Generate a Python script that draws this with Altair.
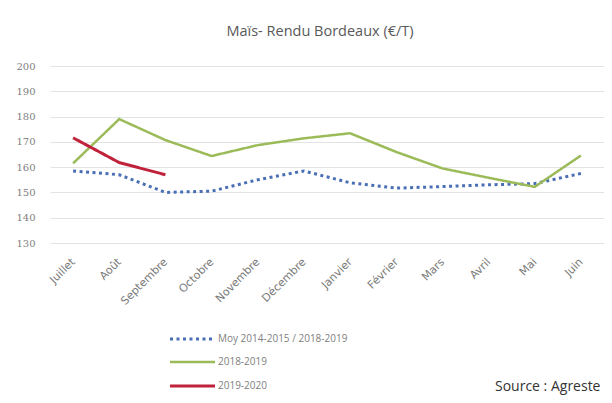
import altair as alt
import pandas as pd

mois = ["Juillet", "Août", "Septembre", "Octobre", "Novembre", "Décembre",
        "Janvier", "Février", "Mars", "Avril", "Mai", "Juin"]
moy = [158.5, 157, 150, 150.5, 155, 158.5, 153.8, 151.7, 152.3, 153, 153.5, 157.5]
s1819 = [161.5, 179, 170.7, 164.4, 168.7, 171.4, 173.4, 166, 159.5, 155.8, 152.2, 164.6]
s1920 = [171.6, 161.8, 157]

series_names = ["Moy 2014-2015 / 2018-2019", "2018-2019", "2019-2020"]
colors = ["#4A6FB5", "#9BBB59", "#C0223B"]
dashes = [[3, 3.5], [1, 0], [1, 0]]
widths = [3, 2.5, 3]

rows = []
for m, v in zip(mois, moy):
    rows.append({"mois": m, "val": v, "serie": series_names[0]})
for m, v in zip(mois, s1819):
    rows.append({"mois": m, "val": v, "serie": series_names[1]})
for m, v in zip(mois, s1920):
    rows.append({"mois": m, "val": v, "serie": series_names[2]})
df = pd.DataFrame(rows)

xenc = alt.X("mois:N", sort=mois, title=None,
             scale=alt.Scale(domain=mois, paddingInner=0, paddingOuter=0),
             axis=alt.Axis(labelAngle=-45, labelColor="#7A7A7A", labelFontSize=11,
                           labelFont="DejaVu Sans", domain=False, ticks=False, grid=False,
                           labelAlign="right", labelBaseline="middle",
                           labelPadding=17))
yenc = alt.Y("val:Q", title=None,
             scale=alt.Scale(domain=[130, 200], nice=False, zero=False),
             axis=alt.Axis(values=list(range(130, 201, 10)), labelColor="#808080",
                           labelFontSize=10, labelFont="DejaVu Serif", domain=False,
                           ticks=False, labelPadding=15, gridColor="#E3E3E3",
                           gridWidth=1))

layers = []
for name, c, d, w in zip(series_names, colors, dashes, widths):
    layers.append(
        alt.Chart(df[df.serie == name]).mark_line(color=c, strokeDash=d, strokeWidth=w)
        .encode(x=xenc, y=yenc)
    )

# manual legend
leg_y = [273, 296, 320]
for name, c, d, w, yy in zip(series_names, colors, dashes, widths, leg_y):
    ld = pd.DataFrame({"label": [name]})
    layers.append(
        alt.Chart(ld).mark_rule(color=c, strokeDash=d, strokeWidth=w)
        .encode(x=alt.value(120), x2=alt.value(165), y=alt.value(yy))
    )
    layers.append(
        alt.Chart(ld).mark_text(align="left", baseline="middle", fontSize=10,
                                color="#808080", font="Open Sans")
        .encode(x=alt.value(168), y=alt.value(yy), text="label:N")
    )

src = pd.DataFrame({"t": ["Source : Agreste"]})
layers.append(
    alt.Chart(src).mark_text(align="left", baseline="middle", fontSize=14,
                             color="#333333", font="Open Sans")
    .encode(x=alt.value(445), y=alt.value(321), text="t:N")
)

chart = alt.layer(*layers).properties(
    width=554, height=177,
    title=alt.TitleParams("Maïs- Rendu Bordeaux (€/T)", fontSize=14.5, color="#595959",
                          font="Open Sans", fontWeight="normal", offset=22, dx=-7,
                          anchor="middle"),
    autosize=alt.AutoSizeParams(type="none"),
    padding={"left": 42, "top": 58, "right": 0, "bottom": 152},
).configure_view(stroke=None)

chart.save("out.html", embed_options={"renderer": "svg", "actions": False})
